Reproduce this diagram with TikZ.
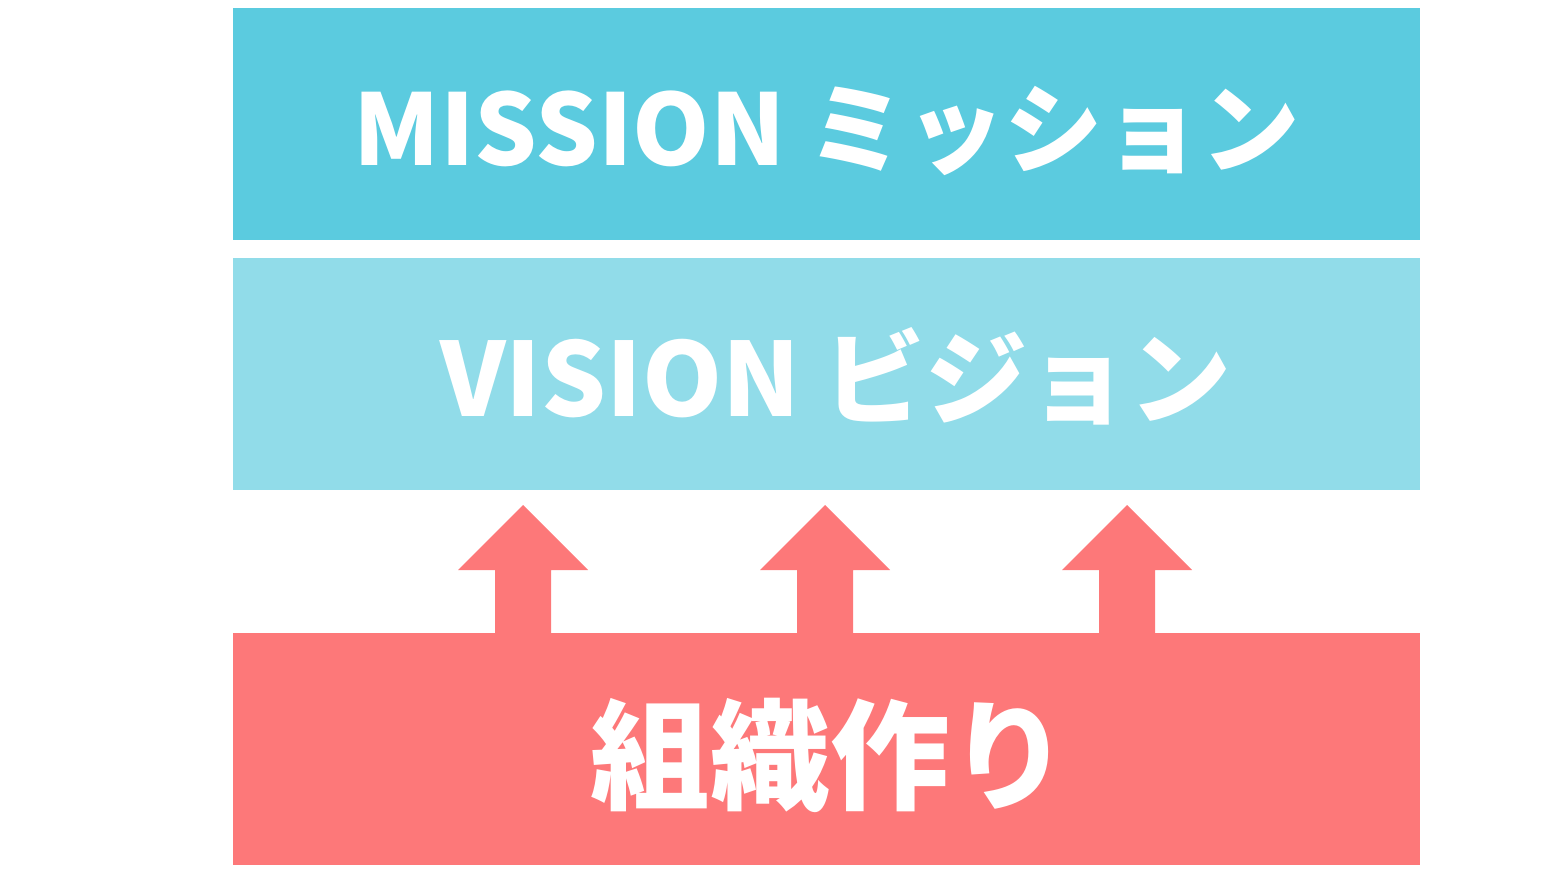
\documentclass[tikz,border=0pt]{standalone}
\usepackage{fontspec}
\newfontfamily\jpfont{Noto Sans CJK JP}
\usetikzlibrary{positioning}
\definecolor{missionblue}{RGB}{91,203,223}
\definecolor{visionblue}{RGB}{145,220,233}
\definecolor{teamred}{RGB}{253,120,121}

\begin{document}
\begin{tikzpicture}[
    x = 0.01cm, y = -0.01cm,
    band/.style = {minimum width = 11.87cm, minimum height = 2.32cm, inner sep = 0pt, text = white},
    bandtext/.style = {text = white, inner sep = 0pt, font = \jpfont\bfseries\fontsize{28}{28}\selectfont},
    uparrow/.style = {fill = teamred},
]
\useasboundingbox (0,0) rectangle (1560,876);

\node[band, fill = missionblue] (mission) at (826.5,124) {};
\node[band, fill = visionblue] (vision) at (826.5,374) {};
\node[band, fill = teamred] (team) at (826.5,749) {};

\node[bandtext] (missiontext) at (827,131) {MISSION ミッション};
\node[bandtext, font = \jpfont\bfseries\fontsize{29}{29}\selectfont] (visiontext) at (836,376) {VISION ビジョン};
\node[bandtext, font = \jpfont\bfseries\fontsize{34}{34}\selectfont] (teamtext) at (830,755) {組織作り};

% arrows from team up to vision
\foreach \ax in {523,825,1127} {
  \path[uparrow] (\ax-28,634) -- (\ax-28,570) -- (\ax-65,570) -- (\ax,505)
    -- (\ax+65,570) -- (\ax+28,570) -- (\ax+28,634) -- cycle;
}

\end{tikzpicture}
\end{document}
